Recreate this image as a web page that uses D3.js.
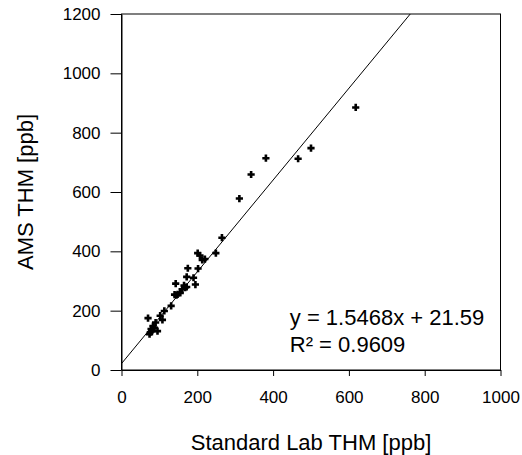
<!DOCTYPE html>
<html>
<head>
<meta charset="utf-8">
<script src="https://cdn.jsdelivr.net/npm/d3@7"></script>
<style>
  body { margin: 0; background: #fff; }
  svg { display: block; font-family: "Liberation Sans", Arial, sans-serif; }
</style>
</head>
<body>
<div id="chart"></div>
<script>
// Standard lab THM vs AMS THM (ppb)
const labThm = [618, 500, 466, 381, 342, 311, 265, 249, 201, 207, 220, 213, 202, 175, 172, 190,
  195, 143, 168, 160, 155, 145, 131, 113, 102, 108, 70, 90, 83, 78, 87, 95, 74, 80, 76,
  165, 172, 148, 140];
const amsThm = [885, 748, 712, 714, 659, 578, 446, 394, 394, 386, 374, 371, 342, 343, 314, 311,
  288, 291, 278, 272, 260, 252, 216, 199, 183, 169, 175, 160, 148, 138, 142, 131, 121, 131, 127,
  285, 280, 255, 254];
const xTicks = [0, 200, 400, 600, 800, 1000];
const yTicks = [0, 200, 400, 600, 800, 1000, 1200];
const slope = 1.5468;
const intercept = 21.59;
const eqLabels = ["y = 1.5468x + 21.59", "R² = 0.9609"];

const width = 522, height = 455;
const margin = { top: 14, right: 21.5, bottom: 85, left: 121.5 };
const innerW = width - margin.left - margin.right;
const innerH = height - margin.top - margin.bottom;

const svg = d3.select("#chart").append("svg")
  .attr("width", width)
  .attr("height", height);

const x = d3.scaleLinear().domain([0, 1000]).range([0, innerW]);
const y = d3.scaleLinear().domain([0, 1200]).range([innerH, 0]);

const g = svg.append("g").attr("transform", `translate(${margin.left},${margin.top})`);

svg.append("defs").append("clipPath").attr("id", "plot-clip")
  .append("rect").attr("width", innerW).attr("height", innerH);

// frame
g.append("rect")
  .attr("width", innerW)
  .attr("height", innerH)
  .attr("fill", "none")
  .attr("stroke", "#000")
  .attr("stroke-width", 1);

const fmt = d3.format("d");
const xAxis = d3.axisBottom(x).tickValues(xTicks).tickFormat(fmt).tickSize(6).tickSizeOuter(0).tickPadding(15);
const yAxis = d3.axisLeft(y).tickValues(yTicks).tickFormat(fmt).tickSize(11).tickSizeOuter(0).tickPadding(10);

g.append("g")
  .attr("transform", `translate(0,${innerH})`)
  .call(xAxis)
  .call(a => a.selectAll("text").attr("font-size", 17).attr("fill", "#000").attr("font-family", null))
  .call(a => a.selectAll("line, path").attr("stroke", "#000"));

g.append("g")
  .call(yAxis)
  .call(a => a.selectAll("text").attr("font-size", 17).attr("fill", "#000").attr("font-family", null))
  .call(a => a.selectAll("line, path").attr("stroke", "#000"));

// trend line
const xEnd = (1200 - intercept) / slope;
g.append("line")
  .attr("clip-path", "url(#plot-clip)")
  .attr("x1", x(0)).attr("y1", y(intercept))
  .attr("x2", x(xEnd)).attr("y2", y(1200))
  .attr("stroke", "#000")
  .attr("stroke-width", 1);

// plus markers
const pts = labThm.map((v, i) => [v, amsThm[i]]);
const arm = 3.6;
g.append("g").selectAll("path")
  .data(pts)
  .join("path")
  .attr("d", d => {
    const cx = x(d[0]), cy = y(d[1]);
    return `M${cx - arm},${cy}H${cx + arm}M${cx},${cy - arm}V${cy + arm}`;
  })
  .attr("stroke", "#000")
  .attr("stroke-width", 2.6)
  .attr("fill", "none");

// equation
g.append("g").selectAll("text")
  .data(eqLabels)
  .join("text")
  .attr("x", x(444))
  .attr("y", (d, i) => 310.5 + i * 27.2)
  .attr("font-size", 22)
  .attr("fill", "#000")
  .text(d => d);

// axis titles
svg.append("text")
  .attr("x", margin.left + innerW / 2)
  .attr("y", 450)
  .attr("text-anchor", "middle")
  .attr("font-size", 22)
  .text("Standard Lab THM [ppb]");

svg.append("text")
  .attr("transform", `translate(33,${margin.top + innerH / 2}) rotate(-90)`)
  .attr("text-anchor", "middle")
  .attr("font-size", 22)
  .text("AMS THM [ppb]");
</script>
</body>
</html>
